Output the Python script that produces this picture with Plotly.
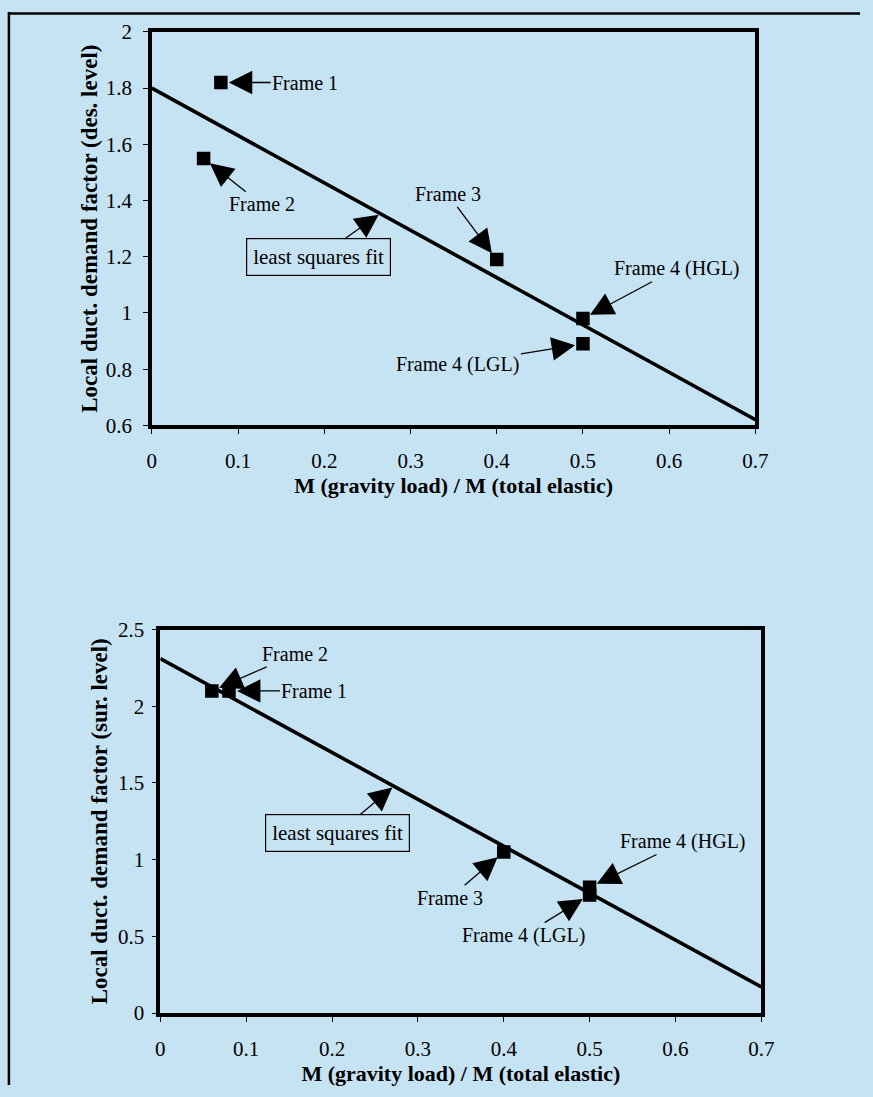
import plotly.graph_objects as go

# ---------------- data ----------------
frames = ["Frame 1", "Frame 2", "Frame 3", "Frame 4 (HGL)", "Frame 4 (LGL)"]
ratio = [0.08, 0.06, 0.40, 0.50, 0.50]
des_level = [1.82, 1.55, 1.19, 0.98, 0.89]
sur_level = [2.10, 2.10, 1.05, 0.82, 0.77]

fit_x = [0.0, 0.7]
fit_des = [1.80, 0.62]
fit_sur = [2.31, 0.17]

x_ticks = [0, 0.1, 0.2, 0.3, 0.4, 0.5, 0.6, 0.7]
y_ticks_des = [0.6, 0.8, 1.0, 1.2, 1.4, 1.6, 1.8, 2.0]
y_ticks_sur = [0, 0.5, 1.0, 1.5, 2.0, 2.5]

x_title = "M (gravity load) / M (total elastic)"
y_title_des = "Local duct. demand factor (des. level)"
y_title_sur = "Local duct. demand factor (sur. level)"

# --------------------------------------
BG = "#c5e3f3"
FONT = "Liberation Serif, Times New Roman, serif"
W, H = 873, 1097


def px_x(t):
    p = (t - 2.3) / 0.985
    return p / W


def px_y(t):
    p = (t - 9.0) / 0.982
    return 1 - p / H


fig = go.Figure()

for xa, ya, yv, fy in [("x", "y", des_level, fit_des), ("x2", "y2", sur_level, fit_sur)]:
    fig.add_trace(go.Scatter(x=fit_x, y=fy, mode="lines", xaxis=xa, yaxis=ya,
                             line=dict(color="black", width=3.6), showlegend=False,
                             hoverinfo="skip"))
    fig.add_trace(go.Scatter(x=ratio, y=yv, mode="markers", xaxis=xa, yaxis=ya,
                             marker=dict(symbol="square", size=13.5, color="black"),
                             text=frames, showlegend=False))


def xaxis(domain, anchor):
    return dict(domain=domain, anchor=anchor, range=[0, 0.7], tickvals=x_ticks,
                ticktext=[("%g" % v) for v in x_ticks],
                showgrid=False, zeroline=False, showline=True, linewidth=3.5,
                linecolor="black", mirror=True, ticks="outside", ticklen=5,
                tickwidth=1, tickcolor="black", ticklabelstandoff=9,
                tickfont=dict(family=FONT, size=21, color="black"),
                title=dict(text="<b>" + x_title + "</b>", standoff=6,
                           font=dict(family=FONT, size=22, color="black")))


def yaxis(domain, anchor, rng, ticks, title, lab_off, title_off):
    return dict(domain=domain, anchor=anchor, range=rng, tickvals=ticks,
                ticktext=[("%g" % v) for v in ticks],
                showgrid=False, zeroline=False, showline=True, linewidth=3.5,
                linecolor="black", mirror=True, ticks="outside", ticklen=5,
                tickwidth=1, tickcolor="black", ticklabelstandoff=lab_off,
                tickfont=dict(family=FONT, size=21, color="black"),
                title=dict(text="<b>" + title + "</b>", standoff=title_off,
                           font=dict(family=FONT, size=23, color="black")))


fig.update_layout(
    width=W, height=H,
    margin=dict(l=0, r=0, t=0, b=0),
    paper_bgcolor=BG, plot_bgcolor=BG,
    font=dict(family=FONT, color="black"),
    xaxis=xaxis([px_x(150), px_x(757)], "y"),
    yaxis=yaxis([px_y(424), px_y(29)], "x", [0.6, 2.0], y_ticks_des, y_title_des, 7, 3),
    xaxis2=xaxis([px_x(158.5), px_x(763)], "y2"),
    yaxis2=yaxis([px_y(1014), px_y(629)], "x2", [0, 2.5], y_ticks_sur, y_title_sur, 3, 5),
)

K = 1.017


def arrow(xr, yr, x, y, text, ax, ay, standoff=8, border=False, size=20):
    d = dict(xref=xr, yref=yr, x=x, y=y, text=text, ax=ax * K, ay=ay * K,
             showarrow=True, arrowhead=2, arrowsize=3.6, arrowwidth=1.3,
             arrowcolor="black", standoff=standoff,
             font=dict(family=FONT, size=size, color="black"))
    if border:
        d.update(bordercolor="black", borderwidth=1.2, borderpad=6)
    fig.add_annotation(**d)


# top chart
arrow("x", "y", ratio[0], des_level[0], frames[0], 83, 0)
arrow("x", "y", ratio[1], des_level[1], frames[1], 57, 45)
arrow("x", "y", ratio[2], des_level[2], frames[2], -48, -64)
arrow("x", "y", ratio[3], des_level[3], frames[3], 92, -49)
arrow("x", "y", ratio[4], des_level[4], frames[4], -123, 20)
arrow("x", "y", 0.265, fit_des[0] + (fit_des[1] - fit_des[0]) * 0.265 / 0.7,
      "least squares fit", -61, 43, standoff=2, border=True, size=21)

# bottom chart
arrow("x2", "y2", ratio[1], sur_level[1], frames[1], 82, -36)
arrow("x2", "y2", ratio[0], sur_level[0], frames[0], 84, 0)
arrow("x2", "y2", ratio[2], sur_level[2], frames[2], -53, 45)
arrow("x2", "y2", ratio[3], sur_level[3], frames[3], 92, -45)
arrow("x2", "y2", ratio[4], sur_level[4], frames[4], -65, 40)
arrow("x2", "y2", 0.272, fit_sur[0] + (fit_sur[1] - fit_sur[0]) * 0.272 / 0.7,
      "least squares fit", -55, 46, standoff=2, border=True, size=21)

# outer frame edges (left and top)
fig.add_shape(type="line", xref="paper", yref="paper", x0=4 / W, x1=4 / W, y0=0, y1=1,
              line=dict(color="black", width=2.5))
fig.add_shape(type="line", xref="paper", yref="paper", x0=4 / W, x1=1, y0=1 - 1.5 / H, y1=1 - 1.5 / H,
              line=dict(color="black", width=2.5))

fig.write_html("out.html", config={"displayModeBar": False},
               post_script="document.body.style.margin='0';document.body.style.overflow='hidden';"
                           "document.body.style.background='" + BG + "';")
